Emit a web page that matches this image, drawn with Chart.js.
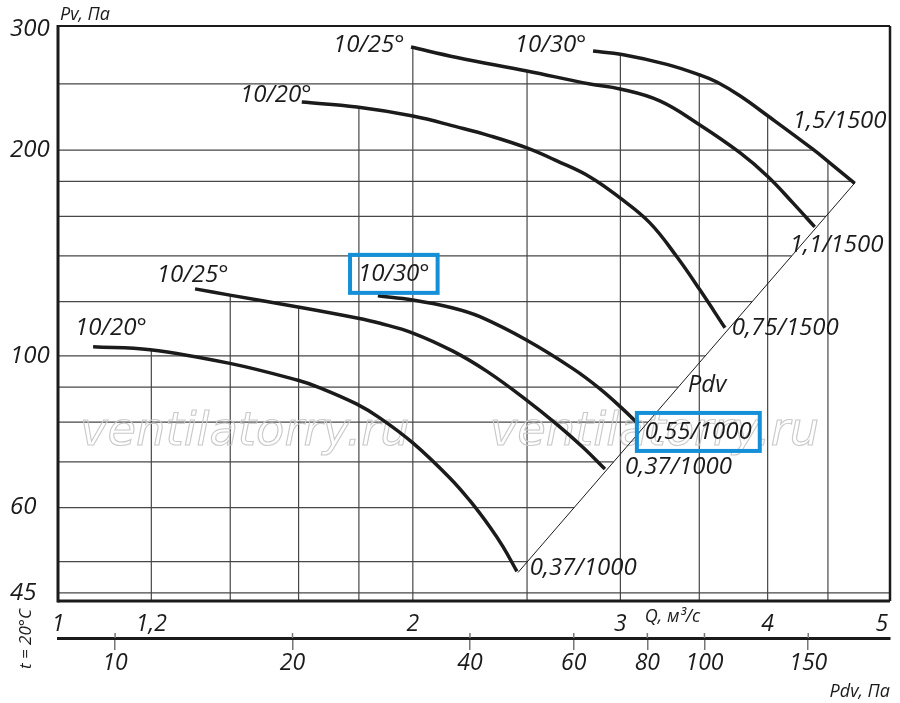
<!DOCTYPE html>
<html>
<head>
<meta charset="utf-8">
<script src="https://cdn.jsdelivr.net/npm/chart.js@4.4.1/dist/chart.umd.min.js"></script>
<style>
  html, body { margin: 0; padding: 0; background: #fff; }
  #wrap { width: 900px; height: 703px; }
</style>
</head>
<body>
<div id="wrap"><canvas id="fanChart"></canvas></div>
<script>
// axes
const qTicks = [1, 1.2, 2, 3, 4, 5];
const qGrid = [1.2, 1.4, 1.6, 1.8, 2, 2.5, 3, 3.5, 4, 4.5];
const pvTicks = [45, 60, 100, 200, 300];
const pvGrid = [45, 50, 60, 70, 80, 90, 100, 120, 140, 160, 180, 200, 250];
const pdvTicks = [10, 20, 40, 60, 80, 100, 150];

// 1500 rpm curves: Q (m3/s) and Pv (Pa)
const q20_1500 = [1.610, 1.793, 2.000, 2.180, 2.325, 2.499, 2.650, 2.827, 2.998, 3.178, 3.350, 3.504, 3.680];
const pv20_1500 = [235.1, 231.2, 224.3, 216.2, 209.8, 201.4, 192.8, 182.7, 170.2, 156.5, 139.6, 124.9, 109.9];
const q25_1500 = [1.993, 2.180, 2.499, 2.827, 2.998, 3.240, 3.504, 3.789, 4.003, 4.202, 4.385];
const pv25_1500 = [282.9, 273.2, 261.0, 249.8, 245.7, 236.0, 217.6, 198.2, 182.8, 167.4, 154.4];
const q30_1500 = [2.844, 3.010, 3.285, 3.504, 3.622, 3.789, 4.003, 4.369, 4.516, 4.742];
const pv30_1500 = [279.1, 275.9, 266.9, 257.5, 251.5, 240.1, 224.3, 200.6, 191.6, 178.8];

// 1000 rpm curves
const q20_1000 = [1.071, 1.197, 1.399, 1.598, 1.668, 1.793, 1.876, 2.000, 2.150, 2.236, 2.325, 2.385, 2.451];
const pv20_1000 = [103.1, 102.1, 97.5, 92.1, 89.8, 85.0, 81.1, 74.6, 66.3, 61.4, 56.2, 52.6, 48.4];
const q25_1000 = [1.307, 1.399, 1.598, 1.793, 1.876, 2.000, 2.163, 2.312, 2.499, 2.650, 2.788, 2.911];
const pv25_1000 = [125.3, 122.7, 117.9, 113.6, 111.6, 108.0, 101.6, 94.9, 86.1, 79.4, 73.5, 68.3];
const q30_1000 = [1.868, 2.000, 2.163, 2.280, 2.499, 2.734, 2.883, 3.010, 3.105];
const pv30_1000 = [122.4, 120.7, 117.5, 114.1, 105.4, 95.8, 89.5, 83.8, 79.6];

// dynamic pressure line Pdv = 8 * Q^2
const pdvFactor = 8;
const qPdv = [2.456, 4.742];
const pvPdv = [48.2, 179.0];

// curve captions
const labelText = ['10/20°', '10/25°', '10/30°', '10/20°', '10/25°', '10/30°',
  '0,75/1500', '1,1/1500', '1,5/1500', '0,37/1000', '0,37/1000', '0,55/1000', 'Pdv'];
const labelQ = [1.427, 1.711, 2.441, 1.034, 1.213, 1.797, 3.730, 4.177, 4.202, 2.513, 3.027, 3.147, 3.422];
const labelPv = [240.8, 285, 285, 109.9, 131.3, 131.8, 109.9, 145.3, 220.6, 49.0, 68.8, 77.4, 90.7];
const boxedLabels = [5, 11];

const watermarkQ = [1.044, 2.324];
const watermarkPv = 74.1;

function pts(qs, ps) {
  return qs.map((q, i) => ({ x: q, y: ps[i] }));
}

function curve(qs, ps) {
  return {
    data: pts(qs, ps),
    borderColor: '#1b1b1b',
    borderWidth: 3.5,
    pointRadius: 0,
    tension: 0.4,
    fill: false
  };
}

const italic = (size) => ({ family: 'Open Sans', size: size, style: 'italic' });

function polylines(chart) {
  return chart.data.datasets.map((ds, i) =>
    chart.getDatasetMeta(i).data.map(p => ({ x: p.x, y: p.y })));
}

const clippedGrid = {
  id: 'clippedGrid',
  beforeDatasetsDraw(chart) {
    const { ctx, chartArea: a, scales: { x, y } } = chart;
    const lines = polylines(chart);
    ctx.save();
    ctx.strokeStyle = '#474747';
    ctx.lineWidth = 1.2;

    pvGrid.forEach(v => {
      const py = y.getPixelForValue(v);
      let right = null;
      lines.forEach(l => {
        for (let k = 1; k < l.length; k++) {
          const p0 = l[k - 1], p1 = l[k];
          if (p0.y !== p1.y && (py - p0.y) * (py - p1.y) <= 0) {
            const px = p0.x + (p1.x - p0.x) * (py - p0.y) / (p1.y - p0.y);
            if (right === null || px > right) right = px;
          }
        }
      });
      if (right === null) right = a.right;
      ctx.beginPath();
      ctx.moveTo(a.left, py);
      ctx.lineTo(right, py);
      ctx.stroke();
    });

    qGrid.forEach(v => {
      const px = x.getPixelForValue(v);
      let top = null;
      lines.forEach(l => {
        for (let k = 1; k < l.length; k++) {
          const p0 = l[k - 1], p1 = l[k];
          if (p0.x !== p1.x && (px - p0.x) * (px - p1.x) <= 0) {
            const py = p0.y + (p1.y - p0.y) * (px - p0.x) / (p1.x - p0.x);
            if (top === null || py < top) top = py;
          }
        }
      });
      if (top === null) top = a.top;
      ctx.beginPath();
      ctx.moveTo(px, top);
      ctx.lineTo(px, a.bottom);
      ctx.stroke();
    });

    // watermark
    ctx.font = 'italic 50px "DejaVu Sans"';
    const w = ctx.measureText('ventilatorry.ru').width;
    ctx.font = 'italic ' + (50 * 330 / w).toFixed(1) + 'px "DejaVu Sans"';
    ctx.strokeStyle = '#c9c9c9';
    ctx.lineWidth = 1.1;
    ctx.textBaseline = 'alphabetic';
    watermarkQ.forEach(q => {
      ctx.strokeText('ventilatorry.ru', x.getPixelForValue(q), y.getPixelForValue(watermarkPv));
    });
    ctx.restore();
  },
  afterDatasetsDraw(chart) {
    const { ctx, chartArea: a, scales: { x, y, x2 } } = chart;
    ctx.save();
    ctx.strokeStyle = '#1b1b1b';
    const seg = (w, x0, y0, x1, y1) => {
      ctx.lineWidth = w;
      ctx.beginPath();
      ctx.moveTo(x0, y0);
      ctx.lineTo(x1, y1);
      ctx.stroke();
    };
    seg(2, a.left, a.top, a.right, a.top);
    seg(2.5, a.right, a.top, a.right, a.bottom);
    seg(3, a.left, a.bottom, a.right, a.bottom);
    seg(3, a.left, a.top - 1, a.left, a.bottom + 1.5);

    // short tick stubs above the Pdv axis line
    ctx.strokeStyle = '#777';
    pdvTicks.forEach(v => {
      const px = x2.getPixelForValue(v);
      seg(1.5, px, x2.top - 5, px, x2.top);
    });

    // curve captions
    ctx.fillStyle = '#1b1b1b';
    ctx.font = 'italic 24px "Open Sans"';
    ctx.textBaseline = 'middle';
    ctx.textAlign = 'left';
    labelText.forEach((t, i) => {
      const px = x.getPixelForValue(labelQ[i]);
      const py = y.getPixelForValue(labelPv[i]);
      ctx.fillText(t, px, py);
      if (boxedLabels.includes(i)) {
        const tw = ctx.measureText(t).width;
        ctx.strokeStyle = '#1590d8';
        ctx.lineWidth = 4;
        ctx.strokeRect(px - 8, py - 19, tw + 16, 38);
      }
    });

    // axis captions
    ctx.font = 'italic 18px "Open Sans"';
    ctx.fillText('Pv, Па', a.left + 2, a.top - 11);
    ctx.fillText('Q, м³/с', x.getPixelForValue(3.147), x.top + 16);
    ctx.font = 'italic 17px "Open Sans"';
    ctx.translate(a.left - 32, x.bottom + 1);
    ctx.rotate(-Math.PI / 2);
    ctx.textAlign = 'center';
    ctx.fillText('t = 20°C', 0, 0);
    ctx.restore();
  }
};

const ctx = document.getElementById('fanChart');
new Chart(ctx, {
  type: 'line',
  data: {
    datasets: [
      curve(q20_1500, pv20_1500),
      curve(q25_1500, pv25_1500),
      curve(q30_1500, pv30_1500),
      curve(q20_1000, pv20_1000),
      curve(q25_1000, pv25_1000),
      curve(q30_1000, pv30_1000),
      {
        data: pts(qPdv, pvPdv),
        borderColor: '#1b1b1b',
        borderWidth: 1,
        pointRadius: 0,
        fill: false
      }
    ]
  },
  options: {
    responsive: true,
    maintainAspectRatio: false,
    animation: false,
    layout: { padding: { left: 10, right: 10, top: 26, bottom: 0 } },
    plugins: {
      legend: { display: false },
      tooltip: { enabled: false }
    },
    scales: {
      x: {
        type: 'logarithmic',
        position: 'bottom',
        min: 1,
        max: 5.08,
        weight: 0,
        afterBuildTicks: s => { s.ticks = qTicks.map(v => ({ value: v })); },
        afterFit: s => { s.height = 37; },
        grid: { display: false },
        border: { display: false },
        ticks: {
          autoSkip: false,
          maxRotation: 0,
          padding: 2,
          color: '#1b1b1b',
          font: italic(23),
          callback: v => String(v).replace('.', ',')
        }
      },
      x2: {
        type: 'logarithmic',
        position: 'bottom',
        min: pdvFactor,
        max: pdvFactor * 5.08 * 5.08,
        weight: 1,
        afterBuildTicks: s => { s.ticks = pdvTicks.map(v => ({ value: v })); },
        afterFit: s => { s.height = 65; },
        grid: {
          drawOnChartArea: false,
          color: '#777',
          lineWidth: 1.5,
          tickLength: 12
        },
        border: { display: true, color: '#1b1b1b', width: 3 },
        ticks: {
          autoSkip: false,
          maxRotation: 0,
          padding: 0,
          color: '#1b1b1b',
          font: italic(23),
          callback: v => String(v)
        },
        title: {
          display: true,
          text: 'Pdv, Па',
          align: 'end',
          color: '#1b1b1b',
          font: italic(18),
          padding: 0
        }
      },
      y: {
        type: 'logarithmic',
        min: 43.8,
        max: 303.7,
        afterBuildTicks: s => { s.ticks = pvTicks.map(v => ({ value: v })); },
        afterFit: s => { s.width = 48; },
        grid: { display: false },
        border: { display: false },
        ticks: {
          autoSkip: false,
          crossAlign: 'far',
          color: '#1b1b1b',
          font: italic(24),
          callback: v => String(v)
        }
      }
    }
  },
  plugins: [clippedGrid]
});
</script>
</body>
</html>
